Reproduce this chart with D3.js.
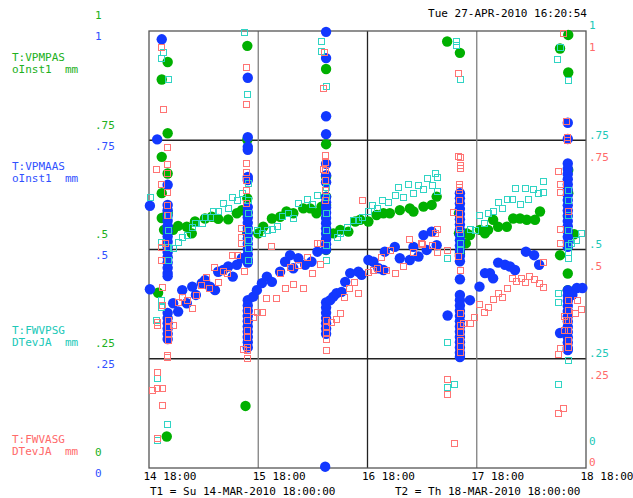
<!DOCTYPE html>
<html lang="en">
<head>
<meta charset="UTF-8">
<title>VPMPAS / VPMAAS / FWVPSG / FWVASG</title>
<script src="https://d3js.org/d3.v7.min.js"></script>
<style>
    body { margin: 0; background: #fff; }
    text { font-family: "DejaVu Sans Mono", "Liberation Mono", monospace; font-size: 11px; white-space: pre; }
</style>
</head>
<body>
<div id="chart"></div>
<script>
// x values are hours after T1 (14-MAR-2010 18:00), y values 0..1 (mm)
const xTickValues = [0, 24, 48, 72, 96];
const xTickLabels = ["14 18:00", "15 18:00", "16 18:00", "17 18:00", "18 18:00"];
const yTickValues = [0, 0.25, 0.5, 0.75, 1];
const yTickLabels = ["0", ".25", ".5", ".75", "1"];

const vpmpas = [
    [4.1,0.929],[2.8,0.889],[4.1,0.766],[2.8,0.712],[4.1,0.674],[2.8,0.629],[2.8,0.572],[4.1,0.584],[3.3,0.545],[2.0,0.401],[3.9,0.072],[21.2,0.142],
    [5.3,0.545],[6.4,0.554],[8.3,0.552],[9.4,0.537],[10.1,0.564],[12.3,0.571],[13.8,0.575],[15.2,0.570],[17.4,0.569],[19.3,0.583],[20.4,0.590],
    [21.6,0.966],[21.6,0.751],[21.6,0.617],[21.6,0.583],[21.6,0.538],
    [24.0,0.537],[25.1,0.552],[27.0,0.571],[28.8,0.575],[30.2,0.587],[31.7,0.583],[33.9,0.594],[35.4,0.594],[36.8,0.583],[37.9,0.598],
    [38.9,0.913],[38.9,0.741],[38.9,0.667],[38.9,0.621],[38.9,0.602],[38.9,0.499],
    [40.5,0.537],[42.0,0.545],[43.8,0.541],[45.3,0.564],[46.4,0.568],[48.2,0.564],[50.0,0.579],[51.5,0.583],[52.9,0.583],[55.1,0.590],[57.3,0.594],[58.1,0.587],[60.3,0.598],[62.1,0.602],[63.2,0.621],
    [65.5,0.976],[68.3,0.950],[68.1,0.583],[68.1,0.537],[69.6,0.514],[68.3,0.491],[69.8,0.537],[70.5,0.533],
    [72.7,0.545],[73.8,0.537],[74.5,0.545],[75.6,0.568],[76.7,0.552],[78.6,0.552],[80.0,0.571],[81.5,0.571],[83.0,0.568],[84.8,0.568],[85.9,0.587],
    [90.3,0.960],[92.1,0.991],[92.1,0.905],[92.1,0.682],[92.1,0.629],[93.4,0.535],[90.3,0.487],[92.0,0.445],[92.0,0.407]
];

const vpmaas = [
    [2.8,0.981],[1.8,0.752],[0.2,0.600],[4.1,0.648],
    [4.1,0.602],[4.1,0.590],[4.1,0.578],[4.1,0.566],[4.1,0.554],[4.1,0.542],[4.1,0.530],[4.1,0.518],[4.1,0.506],[4.1,0.494],[4.1,0.482],[4.1,0.470],[4.1,0.458],[4.1,0.446],[4.1,0.439],[0.2,0.409],
    [4.1,0.355],[4.1,0.343],[4.1,0.331],[4.1,0.319],[4.1,0.307],[4.1,0.295],
    [5.3,0.377],[6.4,0.358],[7.3,0.407],[8.3,0.377],[9.5,0.415],[10.3,0.396],[11.6,0.423],[12.3,0.430],[13.4,0.415],[14.5,0.407],[15.2,0.449],[16.3,0.453],[17.4,0.461],[18.4,0.438],[19.3,0.465],[20.4,0.480],
    [21.7,0.893],[21.7,0.757],[21.7,0.735],[21.7,0.728],[21.7,0.666],[21.7,0.659],
    [21.7,0.597],[21.7,0.585],[21.7,0.573],[21.7,0.561],[21.7,0.549],[21.7,0.537],[21.7,0.525],[21.7,0.513],[21.7,0.501],[21.7,0.489],[21.7,0.477],[21.7,0.470],
    [21.7,0.384],[21.7,0.372],[21.7,0.360],[21.7,0.348],[21.7,0.336],[21.7,0.324],[21.7,0.312],[21.7,0.300],[21.7,0.288],[21.7,0.276],
    [22.9,0.392],[23.7,0.407],[24.8,0.423],[25.9,0.438],[27.0,0.426],[28.8,0.449],[29.9,0.472],[31.0,0.487],[31.7,0.457],[32.8,0.480],[34.3,0.465],[35.7,0.472],[37.0,0.495],
    [38.9,0.998],[38.9,0.938],[38.9,0.805],[38.9,0.764],[38.9,0.696],[38.9,0.670],[38.9,0.654],
    [38.9,0.620],[38.9,0.608],[38.9,0.596],[38.9,0.584],[38.9,0.572],[38.9,0.560],[38.9,0.548],[38.9,0.536],[38.9,0.524],[38.9,0.512],[38.9,0.500],
    [38.9,0.379],[38.9,0.367],[38.9,0.355],[38.9,0.343],[38.9,0.331],[38.9,0.319],[38.9,0.307],[38.7,0.003],
    [39.8,0.384],[40.5,0.392],[41.2,0.400],[42.3,0.403],[43.1,0.426],[44.2,0.446],[46.0,0.449],[46.7,0.442],[48.2,0.476],[49.3,0.472],[50.4,0.457],[51.5,0.453],[51.8,0.495],[54.0,0.506],[55.1,0.480],[57.3,0.476],[58.1,0.506],[59.2,0.484],[60.3,0.533],[61.0,0.499],[62.1,0.541],[63.2,0.510],
    [68.3,0.629],[68.3,0.617],[68.3,0.605],[68.3,0.593],[68.3,0.581],[68.3,0.569],[68.3,0.557],[68.3,0.545],[68.3,0.533],[68.3,0.521],[68.3,0.509],[68.3,0.497],[68.3,0.485],[68.3,0.473],[68.3,0.432],
    [68.3,0.396],[68.3,0.384],[68.3,0.372],[68.3,0.360],[68.3,0.348],[68.3,0.336],[68.3,0.324],[68.3,0.312],[68.3,0.300],[68.3,0.288],[68.3,0.276],[68.3,0.264],[68.3,0.254],[70.5,0.384],[65.6,0.349],
    [72.6,0.415],[73.8,0.446],[74.9,0.446],[75.6,0.434],[76.7,0.470],[78.2,0.465],[79.3,0.461],[80.4,0.453],[82.8,0.495],[84.6,0.487],[85.7,0.465],
    [92.0,0.790],[92.0,0.753],
    [92.0,0.697],[92.0,0.685],[92.0,0.673],[92.0,0.661],[92.0,0.649],[92.0,0.637],[92.0,0.625],[92.0,0.613],[92.0,0.601],[92.0,0.589],[92.0,0.577],[92.0,0.565],[92.0,0.553],[92.0,0.541],[92.0,0.529],[92.0,0.517],[92.0,0.506],
    [92.0,0.407],[92.0,0.395],[92.0,0.383],[92.0,0.371],[92.0,0.359],[92.0,0.347],[92.0,0.335],[92.0,0.323],[92.0,0.311],[92.0,0.299],[92.0,0.287],[92.0,0.275],[92.0,0.270],
    [94.0,0.412],[95.2,0.412],[90.3,0.309],[93.0,0.396]
];

const fwvpsg = [
    [2.6,0.963],[3.1,0.953],[2.6,0.938],[4.1,0.890],[0.2,0.619],[4.1,0.579],[4.1,0.545],[2.6,0.518],[4.1,0.506],[4.1,0.476],[2.6,0.384],[2.6,0.368],[1.5,0.339],[1.7,0.206],[4.0,0.101],[1.7,0.064],
    [5.3,0.503],[6.4,0.518],[7.2,0.529],[8.3,0.533],[9.4,0.552],[10.1,0.560],[11.6,0.560],[12.3,0.575],[13.4,0.575],[14.1,0.587],[15.2,0.587],[16.3,0.607],[17.4,0.594],[18.2,0.621],[19.3,0.613],[20.4,0.629],
    [20.9,0.997],[21.5,0.855],[21.7,0.652],[21.7,0.613],[21.7,0.583],[21.7,0.545],[21.7,0.522],[21.7,0.503],[21.7,0.476],
    [23.7,0.545],[24.8,0.537],[25.9,0.545],[27.0,0.548],[28.1,0.554],[29.2,0.577],[30.6,0.583],[31.7,0.571],[32.8,0.606],[34.6,0.615],[35.7,0.604],[36.8,0.625],
    [37.7,0.976],[37.7,0.954],[38.9,0.873],[38.9,0.643],[38.9,0.620],[38.9,0.583],[38.9,0.545],[38.9,0.510],[38.9,0.476],
    [41.2,0.529],[42.0,0.537],[43.4,0.552],[44.9,0.568],[46.0,0.568],[46.7,0.575],[48.2,0.587],[48.9,0.602],[50.0,0.594],[51.1,0.613],[52.5,0.609],[54.0,0.625],[54.8,0.644],[55.9,0.621],[57.0,0.649],[58.1,0.629],[59.2,0.648],[60.3,0.638],[61.0,0.663],[62.1,0.648],[62.8,0.674],[63.2,0.667],[63.3,0.635],
    [67.4,0.978],[67.4,0.968],[68.3,0.890],[65.4,0.480],[65.4,0.288],[65.4,0.186],[67.0,0.192],[68.3,0.514],[68.3,0.537],[68.3,0.499],
    [70.5,0.546],[71.6,0.545],[72.6,0.579],[73.6,0.560],[74.5,0.584],[75.6,0.589],[76.7,0.609],[77.5,0.594],[78.6,0.615],[79.7,0.615],[80.4,0.640],[81.5,0.604],[82.6,0.640],[83.3,0.615],[84.4,0.638],[85.5,0.629],[86.5,0.632],[86.5,0.657],
    [90.3,0.964],[89.6,0.936],[92.0,0.888],[92.0,0.636],[92.0,0.613],[92.0,0.579],[92.0,0.545],[92.0,0.510],[92.0,0.494],[92.0,0.481],[95.0,0.538],[93.9,0.522],[92.8,0.514],[89.8,0.400],[89.8,0.381],[89.8,0.192],[92.0,0.246]
];

const fwvasg = [
    [2.6,0.964],[3.1,0.821],[3.9,0.735],[1.5,0.684],[3.9,0.696],[3.9,0.675],[3.9,0.632],[2.6,0.650],[3.9,0.602],[3.9,0.579],[2.6,0.506],[3.5,0.515],[2.6,0.476],[2.8,0.415],[2.8,0.373],
    [1.7,0.334],[1.7,0.327],[4.2,0.339],[4.2,0.323],[4.2,0.309],[4.2,0.293],[5.3,0.327],[4.0,0.259],[4.0,0.254],[1.7,0.220],[0.6,0.178],[1.7,0.183],[2.8,0.183],[2.8,0.144],[1.7,0.068],
    [6.4,0.381],[7.2,0.392],[8.3,0.384],[9.4,0.365],[10.3,0.396],[11.4,0.419],[12.5,0.438],[13.2,0.411],[14.3,0.461],[15.1,0.426],[16.2,0.451],[17.2,0.446],[18.2,0.487],[19.3,0.487],[20.9,0.451],[20.3,0.516],[20.3,0.549],[20.3,0.529],
    [21.3,0.918],[21.3,0.834],[21.3,0.698],[21.3,0.677],[21.3,0.659],[21.3,0.636],[21.3,0.606],[21.5,0.362],[21.5,0.339],[21.5,0.316],[21.5,0.300],[21.5,0.277],[21.5,0.270],[21.5,0.252],[20.7,0.272],[22.8,0.345],[23.7,0.358],[24.8,0.358],
    [25.7,0.388],[26.7,0.509],[27.8,0.388],[29.9,0.411],[28.8,0.447],[31.7,0.420],[31.0,0.461],[32.8,0.465],[33.9,0.411],[34.6,0.482],[35.7,0.447],[37.6,0.467],[36.8,0.514],[37.6,0.514],
    [38.4,0.953],[38.2,0.869],[38.7,0.716],[38.7,0.700],[38.7,0.682],[38.7,0.659],[38.3,0.684],[38.7,0.636],[38.7,0.613],[46.9,0.613],
    [38.9,0.339],[38.9,0.323],[38.9,0.311],[38.9,0.295],[38.9,0.270],[40.0,0.335],[41.1,0.340],[42.0,0.355],[42.8,0.392],[43.9,0.411],[45.0,0.426],[45.9,0.401],
    [48.1,0.449],[49.3,0.453],[50.0,0.457],[50.9,0.483],[52.0,0.453],[52.9,0.499],[54.0,0.447],[55.9,0.462],[58.1,0.495],[59.9,0.513],[62.1,0.510],[63.3,0.495],[65.4,0.500],[57.2,0.523],[59.8,0.514],[63.2,0.547],[62.8,0.538],
    [67.8,0.905],[67.8,0.714],[68.3,0.711],[68.3,0.693],[68.3,0.687],[68.1,0.651],[68.1,0.644],[68.1,0.636],[66.8,0.585],[68.1,0.613],[68.1,0.583],[68.1,0.568],[68.1,0.548],[67.8,0.484],[68.3,0.453],
    [68.3,0.354],[68.3,0.327],[69.0,0.331],[70.5,0.331],[68.3,0.312],[68.3,0.293],[68.3,0.279],[68.3,0.265],[65.4,0.203],[65.4,0.169],[67.0,0.058],
    [71.5,0.346],[72.6,0.375],[73.6,0.358],[74.5,0.369],[75.6,0.386],[76.6,0.401],[77.5,0.391],[78.6,0.413],[79.7,0.435],[80.6,0.429],[81.7,0.435],[82.6,0.426],[83.5,0.439],[84.6,0.432],[85.7,0.423],[86.5,0.415],[86.5,0.472],
    [90.9,0.995],[91.6,0.794],[91.9,0.758],[91.9,0.751],[89.8,0.680],[90.3,0.651],[90.3,0.632],[92.0,0.588],[90.3,0.548],[90.3,0.516],[89.8,0.262],[90.3,0.274],[91.2,0.348],[91.6,0.339],[91.2,0.316],
    [92.0,0.384],[92.0,0.362],[92.0,0.339],[92.0,0.316],[92.0,0.293],[92.0,0.277],[94.0,0.384],[95.0,0.364],[93.5,0.355],[89.8,0.127],[91.0,0.137]
];

const colors = { green: "#00b000", blue: "#1238ff", cyan: "#30d4c4", red: "#ff7474",
                 greenText: "#20b020", blueText: "#3050ff", cyanText: "#20c8b8", redText: "#ff6a6a" };

const width = 633, height = 498;
const plot = { left: 149, right: 586, top: 31, bottom: 468 };

const svg = d3.select("#chart").append("svg")
    .attr("width", width)
    .attr("height", height);

const x = d3.scaleLinear().domain([0, 96]).range([plot.left, plot.right]);
const y = d3.scaleLinear().domain([0, 1]).range([plot.bottom, plot.top]);

// grid
svg.append("g").selectAll("line")
    .data(yTickValues.slice(1, 4))
    .enter().append("line")
    .attr("x1", plot.left).attr("x2", plot.right)
    .attr("y1", d => y(d)).attr("y2", d => y(d))
    .attr("stroke", "#222").attr("stroke-width", 1.3);

svg.append("g").selectAll("line")
    .data(xTickValues.slice(1, 4))
    .enter().append("line")
    .attr("x1", d => x(d)).attr("x2", d => x(d))
    .attr("y1", plot.top).attr("y2", plot.bottom)
    .attr("stroke", d => d === 48 ? "#222" : "#808080").attr("stroke-width", 1.3);

svg.append("rect")
    .attr("x", plot.left).attr("y", plot.top)
    .attr("width", plot.right - plot.left).attr("height", plot.bottom - plot.top)
    .attr("fill", "none").attr("stroke", "#555").attr("stroke-width", 1.3);

// points: filled circles for the VPM series, open squares for the FW series
function circles(data, color) {
    svg.append("g").selectAll("circle")
        .data(data)
        .enter().append("circle")
        .attr("cx", d => x(d[0]))
        .attr("cy", d => y(d[1]))
        .attr("r", 5.2)
        .attr("fill", color);
}
function squares(data, color) {
    svg.append("g").selectAll("rect")
        .data(data)
        .enter().append("rect")
        .attr("x", d => Math.round(x(d[0])) - 2.5)
        .attr("y", d => Math.round(y(d[1])) - 2.5)
        .attr("width", 6).attr("height", 6)
        .attr("fill", "none")
        .attr("stroke", color).attr("stroke-width", 1);
}
circles(vpmpas, colors.green);
circles(vpmaas, colors.blue);
squares(fwvpsg, colors.cyan);
squares(fwvasg, colors.red);

// value axes (labels only, offset per series)
function valueAxis(xPos, dy, color, zeroShift) {
    const g = svg.append("g")
        .attr("transform", `translate(${xPos},${dy})`)
        .call(d3.axisRight(y).tickValues(yTickValues)
            .tickFormat((d, i) => yTickLabels[i]).tickSize(0).tickPadding(0));
    g.select(".domain").remove();
    g.selectAll("text")
        .attr("fill", color)
        .style("font-family", "DejaVu Sans Mono, monospace")
        .style("font-size", "11px")
        .attr("dy", "0.35em");
    if (zeroShift) {
        g.selectAll(".tick").filter(d => d === 0)
            .attr("transform", `translate(0,${y(0) - zeroShift})`);
    }
}
valueAxis(95, -16, colors.greenText, 0);
valueAxis(95, 5, colors.blueText, 0);
valueAxis(589, -6, colors.cyanText, 21);
valueAxis(589, 16, colors.redText, 22);

// time axis
const xAxis = svg.append("g")
    .attr("transform", `translate(0,${plot.bottom})`)
    .call(d3.axisBottom(x).tickValues(xTickValues)
        .tickFormat((d, i) => xTickLabels[i]).tickSize(0).tickPadding(0));
xAxis.select(".domain").remove();
xAxis.selectAll("text")
    .attr("fill", "#000")
    .attr("text-anchor", "start")
    .attr("x", -6)
    .attr("dy", "0.71em")
    .attr("y", 4)
    .style("font-family", "DejaVu Sans Mono, monospace")
    .style("font-size", "11px");

// series legends
const legends = [
    { lines: ["T:VPMPAS", "oInst1  mm"], y: 57.5, color: colors.greenText },
    { lines: ["T:VPMAAS", "oInst1  mm"], y: 166.5, color: colors.blueText },
    { lines: ["T:FWVPSG", "DTevJA  mm"], y: 330.5, color: colors.cyanText },
    { lines: ["T:FWVASG", "DTevJA  mm"], y: 439.5, color: colors.redText }
];
legends.forEach(l => {
    l.lines.forEach((t, i) => {
        svg.append("text")
            .attr("x", 12)
            .attr("y", l.y + i * 12)
            .attr("dy", "0.35em")
            .attr("fill", l.color)
            .text(t);
    });
});

svg.append("text")
    .attr("x", 587).attr("y", 13).attr("dy", "0.35em")
    .attr("text-anchor", "end")
    .text("Tue 27-APR-2010 16:20:54");

svg.append("text")
    .attr("x", 150).attr("y", 491).attr("dy", "0.35em")
    .text("T1 = Su 14-MAR-2010 18:00:00");

svg.append("text")
    .attr("x", 395).attr("y", 491).attr("dy", "0.35em")
    .text("T2 = Th 18-MAR-2010 18:00:00");
</script>
</body>
</html>
